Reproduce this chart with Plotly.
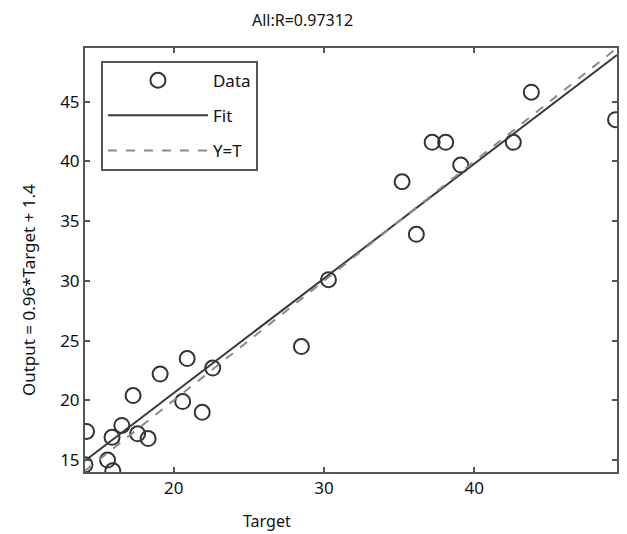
import plotly.graph_objects as go

# data
target = [14.2, 14.1, 15.9, 15.6, 15.95, 16.55, 17.6, 18.3, 17.3, 19.1, 20.9, 20.6, 21.9, 22.6,
          28.5, 30.3, 36.15, 35.2, 37.2, 38.1, 39.1, 42.6, 43.8, 49.4]
output = [17.4, 14.6, 16.9, 15.0, 14.1, 17.9, 17.2, 16.8, 20.4, 22.2, 23.5, 19.9, 19.0, 22.7,
          24.5, 30.1, 33.9, 38.3, 41.6, 41.6, 39.7, 41.6, 45.8, 43.5]
slope = 0.96
intercept = 1.4
x_range = [14.1, 49.5]
y_range = [14.0, 49.5]
x_ticks = [20, 30, 40]
y_ticks = [15, 20, 25, 30, 35, 40, 45]
title_text = "All:R=0.97312"
x_title = "Target"
y_title = "Output = 0.96*Target + 1.4"

font = "Noto Sans"
fit_y = [slope * v + intercept for v in x_range]

fig = go.Figure()
fig.add_trace(go.Scatter(x=target, y=output, mode="markers", name="Data",
                         marker=dict(symbol="circle-open", size=15, color="#333333",
                                     line=dict(width=2, color="#333333")),
                         legendgroup="a"))
fig.add_trace(go.Scatter(x=x_range, y=fit_y, mode="lines", name="Fit",
                         line=dict(color="#3a3a3a", width=2), legendgroup="b"))
fig.add_trace(go.Scatter(x=x_range, y=x_range, mode="lines", name="Y=T",
                         line=dict(color="#8a8a8a", width=2, dash="dash"), legendgroup="c"))

axis_common = dict(showgrid=False, zeroline=False, showline=True, linecolor="#555555",
                   linewidth=2, mirror="ticks", ticks="inside", ticklen=5, tickwidth=2,
                   tickcolor="#555555", tickfont=dict(family=font, size=17, color="#111111"))
fig.update_xaxes(range=x_range, tickvals=x_ticks, **axis_common)
fig.update_yaxes(range=y_range, tickvals=y_ticks, **axis_common)

fig.update_layout(
    width=619, height=526,
    margin=dict(l=77, r=8, t=40, b=62),
    plot_bgcolor="white", paper_bgcolor="white",
    font=dict(family=font, color="#111111"),
    showlegend=True,
    legend=dict(x=0.03, y=0.97, xanchor="left", yanchor="top",
                bordercolor="#555555", borderwidth=2, bgcolor="white",
                font=dict(family=font, size=17), tracegroupgap=10,
                itemwidth=100),
    annotations=[
        dict(text=title_text, xref="paper", yref="paper", x=0.408, y=1.0, yshift=28,
             xanchor="center", yanchor="middle", showarrow=False,
             font=dict(family=font, size=16, color="#111111")),
        dict(text=x_title, xref="paper", yref="paper", x=0.343, y=0, yshift=-49,
             xanchor="center", yanchor="middle", showarrow=False,
             font=dict(family=font, size=16, color="#111111")),
        dict(text=y_title, xref="paper", yref="paper", x=0, xshift=-57, y=0.429,
             xanchor="center", yanchor="middle", textangle=-90, showarrow=False,
             font=dict(family=font, size=17, color="#111111")),
    ],
)

fig.write_html("out.html")
